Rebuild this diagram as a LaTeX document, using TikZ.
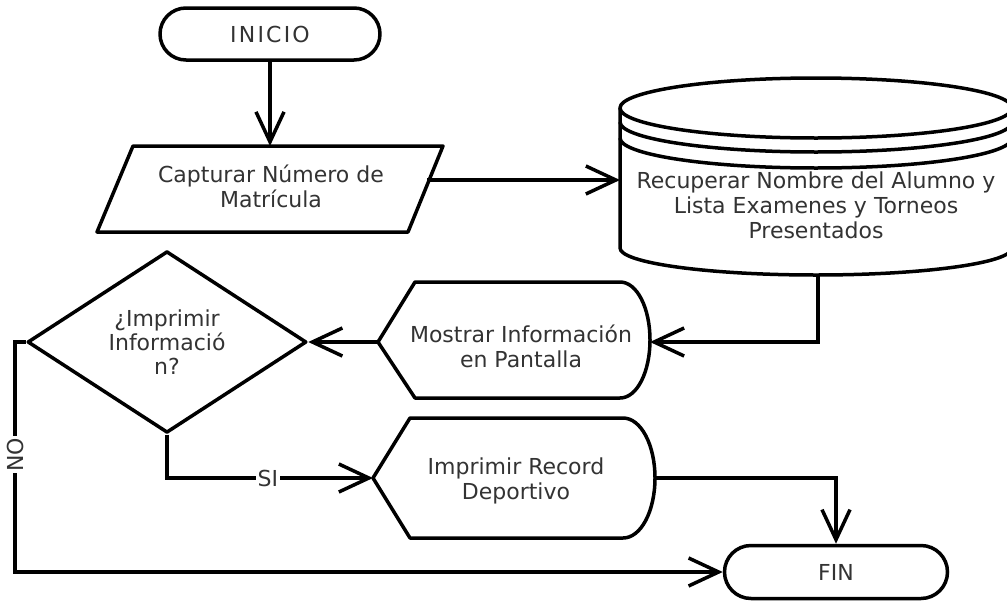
\documentclass[tikz,border=0pt]{standalone}
\usepackage{fontspec}
\setmainfont{DejaVu Sans}
\usetikzlibrary{arrows.meta,shapes.geometric,shapes.misc}

\begin{document}
\begin{tikzpicture}[x=1pt,y=-1pt,
  line width=3.5pt,
  every node/.style={font=\fontsize{22}{25}\selectfont, text=black!80},
  outline/.style={draw=black, line width=3.5pt, line join=round, fill=white},
  flow/.style={draw=black, -{Straight Barb[length=30pt,width=28pt]}, line join=miter},
  terminal/.style={outline, rounded rectangle, minimum width=220pt,
                   minimum height=52pt, inner sep=0pt},
  decision/.style={outline, diamond, minimum width=279pt, minimum height=180pt,
                   inner sep=0pt, align=center},
  txt/.style={align=center, inner sep=0pt},
  lbl/.style={fill=white, inner sep=1.5pt}
]
\useasboundingbox (0,0) rectangle (1007,600);
\fill[white] (0,0) rectangle (1007,600);

% start / end terminals
\node[terminal] (inicio) at (270,34) {\addfontfeature{LetterSpace=10}INICIO};
\node[terminal, minimum width=223pt, minimum height=53pt] (fin) at (836,572) {FIN};

% input: parallelogram
\draw[outline] (133,146) -- (443,146) -- (408,232) -- (97,232) -- cycle;
\node[txt] (cap) at (271,186) {Capturar Número de\\Matrícula};
\coordinate (capTop) at (270,146);
\coordinate (capOut) at (427,180);

% stored data: cylinder with stacked rims
\draw[outline] (620,108) -- (620,248)
  .. controls (620,262.9) and (707.7,275) .. (816,275)
  .. controls (924.3,275) and (1012,262.9) .. (1012,248) -- (1012,108);
\draw[outline] (816,108) ellipse [x radius=196, y radius=30];
\foreach \c in {122,138}{
  \draw (620,\c)
    .. controls (620,\c+16.6) and (707.7,\c+30) .. (816,\c+30)
    .. controls (924.3,\c+30) and (1012,\c+16.6) .. (1012,\c);
}
\node[txt] (db) at (816,205) {Recuperar Nombre del Alumno y\\Lista Examenes y Torneos\\Presentados};
\coordinate (dbIn) at (620,180);
\coordinate (dbBot) at (818,275);

% display: show on screen
\draw[outline] (378,342) -- (415,282) -- (620,282)
  .. controls (637,282) and (650,308) .. (650,340)
  .. controls (650,372) and (637,398) .. (620,398) -- (415,398) -- cycle;
\node[txt] (mos) at (521,346) {Mostrar Información\\en Pantalla};
\coordinate (mosL) at (378,342);
\coordinate (mosR) at (650,342);

% display: print record
\draw[outline] (373,478) -- (410,418) -- (623,418)
  .. controls (641,418) and (655,445) .. (655,478)
  .. controls (655,511) and (641,538) .. (623,538) -- (410,538) -- cycle;
\node[txt] (rec) at (516,481) {Imprimir Record\\Deportivo};
\coordinate (recL) at (373,478);
\coordinate (recR) at (655,478);

% decision
\node[decision, font=\fontsize{22}{24}\selectfont] (dec) at (167,342) {¿Imprimir\\Informació\\n?};
\coordinate (noCorner) at (15,342);

% connectors
\draw[flow] (inicio.south) -- (capTop);
\draw[flow] (capOut) -- (dbIn);
\draw[flow] (dbBot) |- (mosR);
\draw[flow] (mosL) -- (dec.east);
\draw[flow] (dec.south) |- node[lbl, pos=0.745] {SI} (recL);
\draw[flow] (dec.west) -- (noCorner) |- node[lbl, pos=0.245, rotate=90] {NO} (fin.west);
\draw[flow] (recR) -| (fin.north);
\end{tikzpicture}
\end{document}
